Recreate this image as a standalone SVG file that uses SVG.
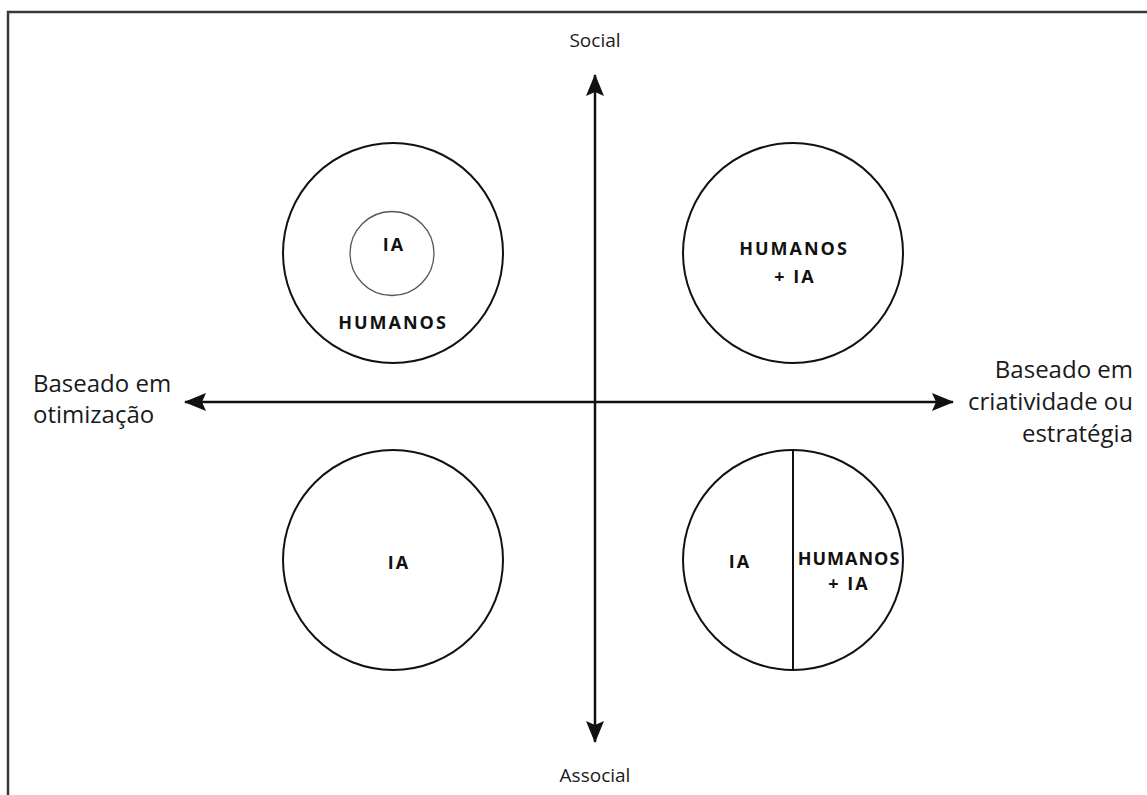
<svg xmlns="http://www.w3.org/2000/svg" width="1147" height="795" viewBox="0 0 1147 795">
  <defs>
    <style>
      .frame { fill: none; stroke: #3a3a3a; stroke-width: 2.5; }
      .ring { fill: none; stroke: #111; stroke-width: 2; }
      .inner { fill: none; stroke: #555; stroke-width: 1.3; }
      .axis { fill: none; stroke: #111; stroke-width: 2.5; }
      .lbl { font-family: "Open Sans", "Noto Sans", sans-serif; fill: #1a1a1a; }
      .big { font-size: 24px; }
      .small { font-size: 19px; }
      .node { font-family: "Open Sans", "Noto Sans", sans-serif; font-weight: bold; font-size: 18px; letter-spacing: 2px; fill: #111; text-anchor: middle; }
    </style>
    <marker id="arr" viewBox="0 0 22 18" refX="21" refY="9" markerWidth="22" markerHeight="18" markerUnits="userSpaceOnUse" orient="auto-start-reverse">
      <path d="M0,0 L22,9 L0,18 L4,9 Z" fill="#111"/>
    </marker>
  </defs>
  <rect width="1147" height="795" fill="#fff"/>
  <path class="frame" d="M8,800 L8,12 L1150,12"/>

  <g id="connectors">
    <line class="axis" x1="595" y1="742" x2="595" y2="75" marker-start="url(#arr)" marker-end="url(#arr)"/>
    <line class="axis" x1="185" y1="402" x2="953" y2="402" marker-start="url(#arr)" marker-end="url(#arr)"/>
  </g>

  <g id="label-social"><text class="lbl small" x="595" y="47" text-anchor="middle">Social</text></g>
  <g id="label-associal"><text class="lbl small" x="595" y="782" text-anchor="middle">Associal</text></g>
  <g id="label-otimizacao">
    <text class="lbl big" x="33" y="392">Baseado em</text>
    <text class="lbl big" x="33" y="423">otimização</text>
  </g>
  <g id="label-criatividade">
    <text class="lbl big" x="1133" y="378" text-anchor="end">Baseado em</text>
    <text class="lbl big" x="1133" y="410" text-anchor="end">criatividade ou</text>
    <text class="lbl big" x="1133" y="442" text-anchor="end">estratégia</text>
  </g>

  <g id="node-top-left">
    <circle class="ring" cx="393" cy="253" r="110"/>
    <circle class="inner" cx="392" cy="253.5" r="42"/>
    <text class="node" x="394" y="251">IA</text>
    <text class="node" x="393" y="329">HUMANOS</text>
  </g>
  <g id="node-top-right">
    <circle class="ring" cx="793" cy="253" r="110"/>
    <text class="node" x="794" y="255">HUMANOS</text>
    <text class="node" x="795" y="283">+ IA</text>
  </g>
  <g id="node-bottom-left">
    <circle class="ring" cx="393" cy="560" r="110"/>
    <text class="node" x="399" y="569">IA</text>
  </g>
  <g id="node-bottom-right">
    <circle class="ring" cx="793" cy="560" r="110"/>
    <line class="ring" x1="793" y1="450" x2="793" y2="670"/>
    <text class="node" x="740" y="568">IA</text>
    <text class="node" x="849" y="565" style="letter-spacing:1px">HUMANOS</text>
    <text class="node" x="849" y="590">+ IA</text>
  </g>
</svg>
